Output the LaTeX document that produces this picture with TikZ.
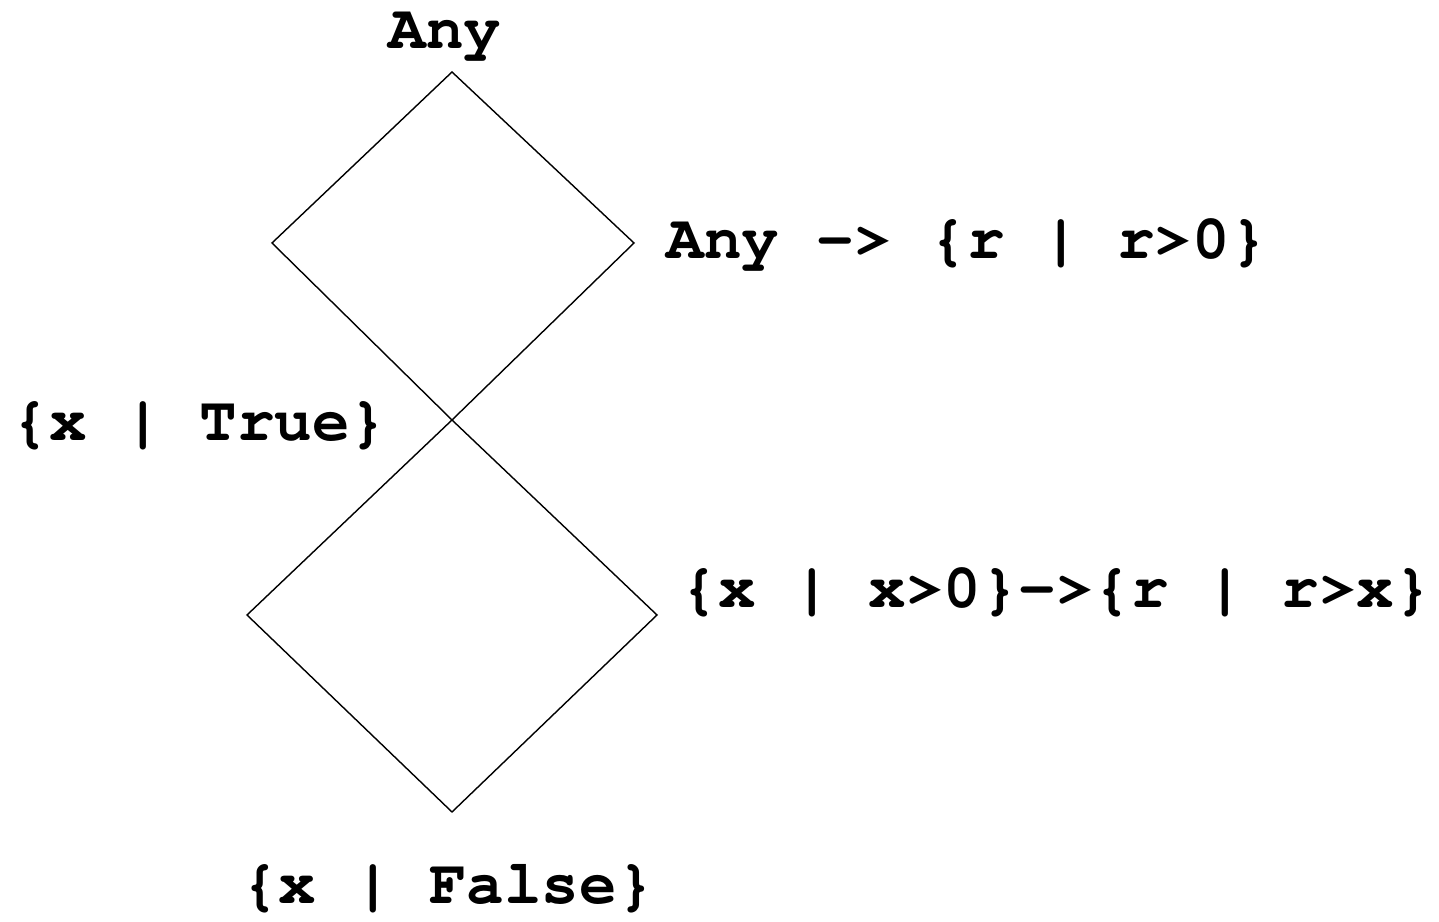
\documentclass[tikz,border=0pt]{standalone}
\usepackage[T1]{fontenc}
\usepackage{courier}
\usepackage{tikz}
\usetikzlibrary{positioning}

\begin{document}
\begin{tikzpicture}[x=0.01cm,y=-0.01cm,
    lbl/.style={font=\ttfamily\bfseries\fontsize{17.8}{20}\selectfont, inner sep=0pt}]
        \useasboundingbox (0,0) rectangle (1439,922);

        % Vertices of the two diamonds
        \coordinate (top) at (452,72);
        \coordinate (ul) at (272,243);
        \coordinate (ur) at (634,243);
        \coordinate (mid) at (452,420);
        \coordinate (ll) at (247,615);
        \coordinate (lr) at (657,615);
        \coordinate (bot) at (452,812);

        % Diamonds
        \draw (top) -- (ur) -- (mid) -- (ul) -- cycle;
        \draw (mid) -- (lr) -- (bot) -- (ll) -- cycle;

        % Labels
        \node[lbl] (any) at (445,35) {Any};
        \node[lbl,anchor=west] (fun1) at (666,243) {Any -> \{r | r>0\}};
        \node[lbl,anchor=east] (true) at (388,425) {\{x | True\}};
        \node[lbl,anchor=west] (fun2) at (680,592) {\{x | x>0\}->\{r | r>x\}};
        \node[lbl] (false) at (448,888) {\{x | False\}};
    \end{tikzpicture}
\end{document}
